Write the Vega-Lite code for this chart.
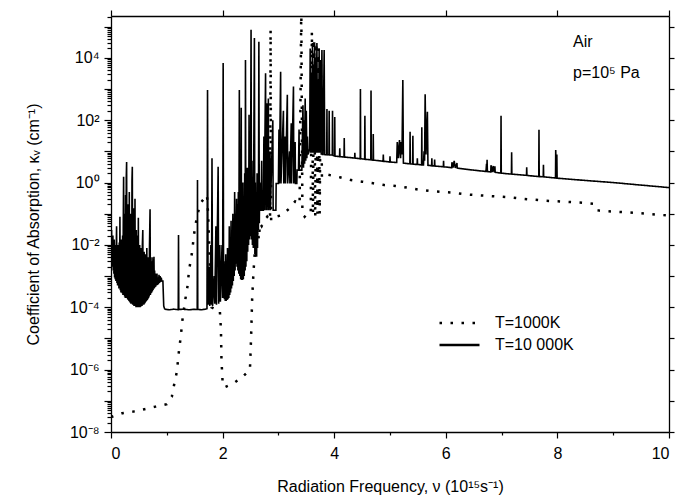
{
  "$schema": "https://vega.github.io/schema/vega-lite/v6.json",
  "autosize": "none",
  "width": 558,
  "height": 416,
  "padding": {"left": 111, "top": 16, "right": 8, "bottom": 72},
  "background": "white",
  "config": {
    "view": {"stroke": null},
    "font": "Liberation Sans",
    "axis": {
      "domainColor": "black", "tickColor": "black", "labelColor": "black", "titleColor": "black",
      "grid": false, "labelFont": "Liberation Sans", "titleFont": "Liberation Sans",
      "labelFontSize": 16, "titleFontSize": 16, "titleFontWeight": "normal",
      "domainWidth": 1.3, "tickWidth": 1.2
    }
  },
  "layer": [
    {
      "data": {"values": [
        {"v":0,"k":3e-8},{"v":0.2,"k":4e-8},{"v":0.4,"k":4.5e-8},{"v":0.6,"k":5.4e-8},{"v":0.8,"k":6.5e-8},{"v":1.0,"k":7.8e-8},
        {"v":1.09,"k":1.35e-7},{"v":1.13,"k":3.2e-7},{"v":1.18,"k":8.5e-7},{"v":1.22,"k":4.3e-6},{"v":1.25,"k":1.15e-5},{"v":1.28,"k":3.9e-5},
        {"v":1.33,"k":1.7e-4},{"v":1.37,"k":4.6e-4},{"v":1.4,"k":1.6e-3},{"v":1.45,"k":5.4e-3},{"v":1.49,"k":2.3e-2},{"v":1.54,"k":8.1e-2},
        {"v":1.6,"k":2.1e-1},{"v":1.65,"k":2.8e-1},{"v":1.7,"k":3.5e-1},{"v":1.72,"k":4e-1},{"v":1.74,"k":1e-1},{"v":1.76,"k":1e-2},
        {"v":1.78,"k":8e-4},{"v":1.8,"k":1e-4},{"v":1.85,"k":9e-5},{"v":1.9,"k":9e-5},{"v":1.95,"k":8e-5},{"v":1.97,"k":2e-5},
        {"v":1.98,"k":2e-6},{"v":2.0,"k":4e-7},{"v":2.03,"k":2.7e-7},{"v":2.19,"k":3.6e-7},{"v":2.36,"k":5.9e-7},{"v":2.49,"k":1e-6},
        {"v":2.51,"k":1e-5},{"v":2.53,"k":2e-4},{"v":2.55,"k":1e-3},{"v":2.57,"k":4e-3},{"v":2.6,"k":1.5e-2},{"v":2.63,"k":3e-2},
        {"v":2.65,"k":1.5e-2},{"v":2.67,"k":5e-2},{"v":2.7,"k":4e-2},{"v":2.75,"k":6e-2},{"v":2.8,"k":8e-2},{"v":2.85,"k":6e-2},
        {"v":2.86,"k":8e4},{"v":2.87,"k":6e-2},{"v":2.95,"k":8e-2},{"v":3.06,"k":9e-2},{"v":3.2,"k":1.5e-1},{"v":3.3,"k":2.5e-1},
        {"v":3.38,"k":2e-1},{"v":3.41,"k":5e5},{"v":3.43,"k":1e-1},{"v":3.47,"k":8e-2},{"v":3.52,"k":1e-1},{"v":3.58,"k":1e-1},
        {"v":3.6,"k":6.8e4},{"v":3.62,"k":1e-1},{"v":3.64,"k":4e4},{"v":3.66,"k":8e-2},{"v":3.68,"k":3e4},{"v":3.7,"k":1e-1},
        {"v":3.72,"k":2e4},{"v":3.74,"k":1e-1},{"v":3.76,"k":1e4},{"v":3.78,"k":1.5},{"v":3.8,"k":1.8},
        {"v":3.89,"k":1.78},{"v":4.1,"k":1.48},{"v":4.3,"k":1.2},{"v":4.5,"k":1.07},{"v":4.7,"k":0.95},{"v":4.9,"k":0.83},
        {"v":5.1,"k":0.78},{"v":5.3,"k":0.69},{"v":5.5,"k":0.6},{"v":5.7,"k":0.54},{"v":5.9,"k":0.51},{"v":6.1,"k":0.48},
        {"v":6.3,"k":0.43},{"v":6.5,"k":0.4},{"v":6.7,"k":0.38},{"v":7.0,"k":0.35},{"v":7.2,"k":0.33},{"v":7.4,"k":0.3},
        {"v":7.6,"k":0.28},{"v":7.8,"k":0.26},{"v":8.0,"k":0.25},{"v":8.2,"k":0.24},{"v":8.4,"k":0.23},{"v":8.64,"k":0.21},
        {"v":8.7,"k":0.13},{"v":8.75,"k":0.126},{"v":9.0,"k":0.117},{"v":9.3,"k":0.11},{"v":9.6,"k":0.1},{"v":9.87,"k":0.091},{"v":10,"k":0.088}
      ]},
      "mark": {"type": "line", "color": "black", "strokeWidth": 2.5, "clip": true},
      "encoding": {
        "x": {
          "field": "v", "type": "quantitative",
          "scale": {"domain": [0, 10], "nice": false, "zero": false},
          "axis": {
            "orient": "bottom", "values": [0,2,4,6,8,10], "tickSize": 6,
            "labelPadding": 7, "titlePadding": 17,
            "title": "Radiation Frequency, ν (10¹⁵s⁻¹)"
          }
        },
        "y": {
          "field": "k", "type": "quantitative",
          "scale": {"type": "log", "domain": [1e-8, 2.2e5], "nice": false},
          "axis": {
            "orient": "left",
            "values": [1e-8,1e-7,1e-6,1e-5,1e-4,1e-3,1e-2,0.1,1,10,100,1000,1e4,1e5],
            "labelExpr": "round(log(datum.value)/LN10) % 2 == 0 ? '10' + ['⁻⁸','','⁻⁶','','⁻⁴','','⁻²','','⁰','','²','','⁴','',''][round(log(datum.value)/LN10)+8] : ''",
            "tickSize": 7,
            "labelPadding": 5, "titlePadding": 28,
            "title": "Coefficient of Absorption, κᵥ (cm⁻¹)"
          }
        },
        "strokeDash": {
          "datum": "T=1000K", "type": "nominal",
          "scale": {"domain": ["T=1000K", "T=10 000K"], "range": [[2.5, 8.5], [1, 0]]},
          "legend": {
            "orient": "none", "legendX": 327, "legendY": 299, "title": null,
            "symbolType": "stroke", "symbolSize": 1600, "symbolStrokeWidth": 2.5, "symbolStrokeColor": "black",
            "clipHeight": 16, "rowPadding": 6,
            "labelFontSize": 16, "labelFont": "Liberation Sans", "labelColor": "black", "labelOffset": 14
          }
        }
      }
    },
    {
      "data": {"values": [
        {"v":0,"k":25},{"v":0.004,"k":8e-3},{"v":0.01,"k":3e-2},{"v":0.016,"k":3e-3},{"v":0.022,"k":1.5e-2},{"v":0.028,"k":2e-3},{"v":0.034,"k":2e-2},{"v":0.04,"k":1.5e-3},{"v":0.046,"k":1e-2},{"v":0.052,"k":1.2e-3},{"v":0.058,"k":1.5e-2},{"v":0.064,"k":9e-4},{"v":0.07,"k":6e-3},{"v":0.076,"k":8e-4},{"v":0.082,"k":1e-2},{"v":0.088,"k":7e-4},{"v":0.094,"k":8e-3},{"v":0.1,"k":4e-2},{"v":0.106,"k":6e-4},{"v":0.112,"k":5e-3},{"v":0.118,"k":5e-4},{"v":0.124,"k":1e-2},{"v":0.13,"k":5e-4},{"v":0.136,"k":6e-3},{"v":0.142,"k":4e-4},{"v":0.148,"k":1.2e-2},{"v":0.154,"k":4e-4},{"v":0.16,"k":8e-2},{"v":0.166,"k":3.5e-4},{"v":0.172,"k":7e-3},{"v":0.178,"k":3e-4},{"v":0.184,"k":1.5e-2},{"v":0.19,"k":3e-4},{"v":0.196,"k":8e-3},{"v":0.202,"k":2.8e-4},{"v":0.208,"k":2e-2},{"v":0.214,"k":2.5e-4},{"v":0.22,"k":5e-2},{"v":0.226,"k":1.55},{"v":0.232,"k":2.5e-4},{"v":0.238,"k":3e-2},{"v":0.244,"k":2.2e-4},{"v":0.25,"k":1e-1},{"v":0.256,"k":2e-4},{"v":0.262,"k":4e-1},{"v":0.268,"k":2e-4},{"v":0.274,"k":1.5},{"v":0.28,"k":4.6},{"v":0.286,"k":2e-4},{"v":0.292,"k":6e-2},{"v":0.298,"k":1.8e-4},{"v":0.304,"k":2e-1},{"v":0.31,"k":1.7e-4},{"v":0.316,"k":5e-2},{"v":0.322,"k":1.6e-4},{"v":0.328,"k":5e-1},{"v":0.334,"k":1.5e-4},{"v":0.34,"k":2e-2},{"v":0.346,"k":1.4e-4},{"v":0.352,"k":1e-1},{"v":0.358,"k":1.3e-4},{"v":0.364,"k":3e-2},{"v":0.37,"k":1.3e-4},{"v":0.376,"k":1.2},{"v":0.382,"k":3.2},{"v":0.388,"k":1.2e-4},{"v":0.394,"k":5e-2},{"v":0.4,"k":1.2e-4},{"v":0.406,"k":1.5e-1},{"v":0.412,"k":1.1e-4},{"v":0.418,"k":1e-2},{"v":0.424,"k":1.1e-4},{"v":0.43,"k":3e-1},{"v":0.436,"k":1.1e-4},{"v":0.442,"k":8e-3},{"v":0.448,"k":1e-4},{"v":0.454,"k":3e-2},{"v":0.46,"k":1e-4},{"v":0.466,"k":6e-3},{"v":0.472,"k":1e-4},{"v":0.478,"k":2e-2},{"v":0.484,"k":1e-4},{"v":0.49,"k":7.4e-2},{"v":0.496,"k":1e-4},{"v":0.502,"k":5e-3},{"v":0.508,"k":1e-4},{"v":0.514,"k":1e-2},{"v":0.52,"k":1e-4},{"v":0.526,"k":4e-3},{"v":0.532,"k":1.05e-4},{"v":0.538,"k":8e-3},{"v":0.544,"k":1.1e-4},{"v":0.55,"k":3e-3},{"v":0.556,"k":1.1e-4},{"v":0.562,"k":1e-2},{"v":0.57,"k":3e-2},{"v":0.576,"k":1.2e-4},{"v":0.582,"k":3e-3},{"v":0.588,"k":1.2e-4},{"v":0.594,"k":6e-3},{"v":0.6,"k":1.3e-4},{"v":0.606,"k":2.5e-3},{"v":0.612,"k":1.4e-4},{"v":0.618,"k":5e-3},{"v":0.624,"k":1.5e-4},{"v":0.63,"k":2e-3},{"v":0.636,"k":1.6e-4},{"v":0.642,"k":8e-3},{"v":0.648,"k":1.7e-4},{"v":0.654,"k":3e-3},{"v":0.66,"k":1.8e-4},{"v":0.666,"k":4e-3},{"v":0.672,"k":2e-4},{"v":0.678,"k":1.5e-3},{"v":0.684,"k":2.2e-4},{"v":0.69,"k":1e-2},{"v":0.7,"k":1.4e-1},{"v":0.706,"k":2.5e-4},{"v":0.712,"k":3e-3},{"v":0.718,"k":2.8e-4},{"v":0.724,"k":2e-3},{"v":0.73,"k":3e-4},{"v":0.736,"k":4e-3},{"v":0.742,"k":3.3e-4},{"v":0.748,"k":1.5e-3},{"v":0.754,"k":3.6e-4},{"v":0.76,"k":2e-3},{"v":0.77,"k":4.2e-3},{"v":0.776,"k":4e-4},{"v":0.782,"k":1.5e-3},{"v":0.788,"k":4.4e-4},{"v":0.794,"k":1.2e-3},{"v":0.8,"k":4.6e-4},{"v":0.808,"k":1e-3},{"v":0.816,"k":5e-4},{"v":0.824,"k":1.2e-3},{"v":0.832,"k":5.2e-4},{"v":0.84,"k":9e-4},{"v":0.85,"k":5.5e-4},{"v":0.86,"k":1.1e-3},{"v":0.87,"k":6e-4},{"v":0.88,"k":1e-3},{"v":0.89,"k":6.5e-4},{"v":0.9,"k":9e-4},{"v":0.91,"k":7e-4},{"v":0.93,"k":7e-4},{"v":0.945,"k":1.1e-4},{"v":0.96,"k":9e-5},{"v":0.975,"k":8.6e-5},
        {"v":1.05,"k":8.3e-5},{"v":1.12,"k":8.7e-5},{"v":1.2,"k":8.4e-5},{"v":1.205,"k":8.4e-5},{"v":1.21,"k":2.1e-2},{"v":1.215,"k":8.5e-5},{"v":1.3,"k":8.7e-5},{"v":1.4,"k":8.3e-5},{"v":1.48,"k":8.6e-5},{"v":1.545,"k":8.5e-5},{"v":1.55,"k":1.2},{"v":1.555,"k":8.6e-5},{"v":1.62,"k":8.3e-5},{"v":1.69,"k":8.7e-5},{"v":1.72,"k":9e-5},{"v":1.73,"k":930},{"v":1.74,"k":1.2e-4},{"v":1.76,"k":2e-3},{"v":1.77,"k":1.1e-4},{"v":1.79,"k":1e-2},{"v":1.8,"k":1.2e-4},{"v":1.81,"k":6},{"v":1.82,"k":1.1e-4},{"v":1.85,"k":1e-3},{"v":1.86,"k":1.3e-4},{"v":1.88,"k":4e-2},{"v":1.89,"k":1.2e-4},{"v":1.92,"k":3.2},{"v":1.93,"k":1.3e-4},{"v":1.95,"k":1e-2},{"v":1.96,"k":1.5e-4},{"v":1.99,"k":1e-2},
        {"v":2.0,"k":2e-4},{"v":2.01,"k":6800},{"v":2.018,"k":2e-4},{"v":2.025,"k":3e-3},{"v":2.032,"k":1.8e-4},{"v":2.04,"k":1e-3},{"v":2.048,"k":1.6e-4},{"v":2.056,"k":5e-3},{"v":2.064,"k":1.6e-4},{"v":2.072,"k":2e-3},{"v":2.08,"k":1.7e-4},{"v":2.088,"k":8e-3},{"v":2.096,"k":1.8e-4},{"v":2.104,"k":3e-3},{"v":2.112,"k":2e-4},{"v":2.12,"k":4e-2},{"v":2.128,"k":2.5e-4},{"v":2.136,"k":1e-2},{"v":2.144,"k":3e-4},{"v":2.152,"k":6e-2},{"v":2.16,"k":4e-4},{"v":2.168,"k":2e-2},{"v":2.176,"k":5e-4},{"v":2.184,"k":1e-1},{"v":2.192,"k":7e-4},{"v":2.2,"k":3e-2},{"v":2.208,"k":1e-3},{"v":2.216,"k":5e-1},{"v":2.224,"k":1.5e-3},{"v":2.232,"k":1e-1},{"v":2.24,"k":2.5e-3},{"v":2.25,"k":3e-1},{"v":2.258,"k":2e-3},{"v":2.266,"k":2e-1},{"v":2.274,"k":1.5e-3},{"v":2.282,"k":5e-1},{"v":2.29,"k":1.2e-3},{"v":2.3,"k":930},{"v":2.308,"k":1e-3},{"v":2.316,"k":3e-1},{"v":2.324,"k":8e-4},{"v":2.334,"k":250},{"v":2.34,"k":7.5e-4},{"v":2.348,"k":2e-1},{"v":2.356,"k":7.5e-4},{"v":2.364,"k":1},{"v":2.372,"k":8e-4},{"v":2.38,"k":3e-1},{"v":2.388,"k":1e-3},{"v":2.396,"k":2},{"v":2.404,"k":1.5e-3},{"v":2.41,"k":8500},{"v":2.418,"k":2e-3},{"v":2.426,"k":5e-1},{"v":2.434,"k":3e-3},{"v":2.442,"k":3},{"v":2.45,"k":6e-3},{"v":2.458,"k":1},{"v":2.466,"k":1e-2},{"v":2.474,"k":150},{"v":2.482,"k":1.5e-2},{"v":2.49,"k":2},{"v":2.498,"k":1.9e-2},{"v":2.51,"k":8e4},{"v":2.518,"k":1.5e-2},{"v":2.526,"k":5},{"v":2.534,"k":1e-2},{"v":2.542,"k":3e-1},{"v":2.55,"k":8e-3},{"v":2.56,"k":20},{"v":2.57,"k":4.3e4},{"v":2.578,"k":5e-3},{"v":2.586,"k":1},{"v":2.594,"k":4.2e-3},{"v":2.602,"k":3e-1},{"v":2.61,"k":4.2e-3},{"v":2.618,"k":2},{"v":2.626,"k":8e-3},{"v":2.634,"k":5e-1},{"v":2.642,"k":3e-2},{"v":2.65,"k":3.3e4},{"v":2.658,"k":5e-2},{"v":2.666,"k":1},{"v":2.674,"k":1.3e-1},{"v":2.69,"k":1.3e-1},{"v":2.7,"k":5},{"v":2.706,"k":1.3e-1},{"v":2.73,"k":1.3e-1},{"v":2.74,"k":30},{"v":2.746,"k":1.3e-1},{"v":2.77,"k":3200},{"v":2.776,"k":1.3e-1},{"v":2.79,"k":350},{"v":2.796,"k":1.3e-1},{"v":2.82,"k":500},{"v":2.826,"k":1.3e-1},{"v":2.85,"k":10},{"v":2.856,"k":1.3e-1},{"v":2.9,"k":100},{"v":2.906,"k":1.3e-1},{"v":2.955,"k":1.3e-1},{"v":2.96,"k":0.93},
        {"v":3.0,"k":0.93},{"v":3.01,"k":50},{"v":3.016,"k":0.93},{"v":3.04,"k":3600},{"v":3.046,"k":0.93},{"v":3.09,"k":200},{"v":3.096,"k":0.93},{"v":3.12,"k":30},{"v":3.126,"k":0.93},{"v":3.16,"k":650},{"v":3.166,"k":0.93},{"v":3.2,"k":10},{"v":3.206,"k":0.93},{"v":3.23,"k":80},{"v":3.236,"k":0.93},{"v":3.27,"k":1200},{"v":3.276,"k":0.93},{"v":3.3,"k":20},{"v":3.306,"k":0.93},{"v":3.33,"k":0.93},{"v":3.335,"k":2.5},{"v":3.36,"k":2.5},{"v":3.37,"k":50},{"v":3.376,"k":2.5},{"v":3.42,"k":2.5},{"v":3.44,"k":300},{"v":3.45,"k":3},{"v":3.46,"k":100},{"v":3.47,"k":4},{"v":3.48,"k":500},{"v":3.49,"k":5},{"v":3.5,"k":200},{"v":3.51,"k":6},{"v":3.52,"k":30},{"v":3.53,"k":8},{"v":3.54,"k":8.7},{"v":3.56,"k":12},{"v":3.57,"k":2e4},{"v":3.58,"k":9},{"v":3.59,"k":3000},{"v":3.6,"k":9},{"v":3.61,"k":3e4},{"v":3.62,"k":9},{"v":3.63,"k":5000},{"v":3.64,"k":9},{"v":3.65,"k":2.5e4},{"v":3.66,"k":9},{"v":3.67,"k":1e4},{"v":3.68,"k":9},{"v":3.69,"k":3e4},{"v":3.7,"k":9},{"v":3.71,"k":1500},{"v":3.72,"k":9},{"v":3.73,"k":2e4},{"v":3.74,"k":9},{"v":3.75,"k":8000},{"v":3.76,"k":9},{"v":3.78,"k":1.8e4},{"v":3.79,"k":8},{"v":3.8,"k":8},{"v":3.82,"k":1.8e4},{"v":3.83,"k":7.9},
        {"v":3.866,"k":7.8},{"v":3.87,"k":230},{"v":3.874,"k":7.8},{"v":3.906,"k":7.8},{"v":3.91,"k":200},{"v":3.914,"k":7.7},{"v":3.966,"k":7.6},{"v":3.97,"k":200},{"v":3.974,"k":7.5},{"v":4.006,"k":7.1},{"v":4.01,"k":126},{"v":4.014,"k":7.1},{"v":4.096,"k":6.8},{"v":4.1,"k":12.6},{"v":4.104,"k":6.8},{"v":4.176,"k":6.6},{"v":4.18,"k":27},{"v":4.184,"k":6.6},{"v":4.366,"k":6.1},{"v":4.37,"k":9},{"v":4.374,"k":6.1},{"v":4.466,"k":5.8},{"v":4.47,"k":1000},{"v":4.474,"k":5.8},{"v":4.5,"k":5.75},{"v":4.546,"k":5.6},{"v":4.55,"k":138},{"v":4.554,"k":5.6},{"v":4.656,"k":5.35},{"v":4.66,"k":890},{"v":4.664,"k":5.35},{"v":4.696,"k":5.25},{"v":4.7,"k":36},{"v":4.704,"k":5.25},{"v":4.876,"k":4.83},{"v":4.88,"k":8},{"v":4.884,"k":4.83},{"v":4.996,"k":4.57},{"v":5.0,"k":7},{"v":5.004,"k":4.57},
        {"v":5.12,"k":4.4},{"v":5.13,"k":20},{"v":5.15,"k":6},{"v":5.17,"k":23},{"v":5.19,"k":6},{"v":5.2,"k":20},{"v":5.215,"k":8},{"v":5.23,"k":1950},{"v":5.24,"k":4.2},{"v":5.356,"k":4.0},{"v":5.36,"k":43},{"v":5.364,"k":4.0},{"v":5.406,"k":3.9},{"v":5.41,"k":32},{"v":5.414,"k":3.9},{"v":5.486,"k":3.8},{"v":5.49,"k":6},{"v":5.494,"k":3.8},{"v":5.566,"k":3.7},{"v":5.57,"k":59},{"v":5.574,"k":3.7},{"v":5.6,"k":3.7},{"v":5.61,"k":10},{"v":5.62,"k":5},{"v":5.63,"k":676},{"v":5.645,"k":8},{"v":5.67,"k":186},{"v":5.68,"k":3.6},{"v":5.746,"k":3.47},{"v":5.75,"k":6},{"v":5.754,"k":3.47},{"v":5.796,"k":3.4},{"v":5.8,"k":5.5},{"v":5.804,"k":3.4},{"v":5.956,"k":3.2},{"v":5.96,"k":5},{"v":5.964,"k":3.2},{"v":6.0,"k":3.16},{"v":6.106,"k":3.0},{"v":6.11,"k":4.5},{"v":6.13,"k":3.0},{"v":6.15,"k":5},{"v":6.17,"k":2.95},{"v":6.2,"k":4.2},{"v":6.205,"k":2.9},{"v":6.5,"k":2.5},{"v":6.72,"k":2.27},{"v":6.73,"k":4},{"v":6.735,"k":2.26},{"v":6.74,"k":5.4},{"v":6.745,"k":2.25},{"v":6.806,"k":2.2},{"v":6.81,"k":3.6},{"v":6.83,"k":2.18},{"v":6.85,"k":3.4},{"v":6.865,"k":2.16},{"v":6.88,"k":3.3},{"v":6.885,"k":2.14},{"v":6.986,"k":2.0},{"v":6.99,"k":138},{"v":6.994,"k":2.0},{"v":7.176,"k":1.87},{"v":7.18,"k":9.3},{"v":7.184,"k":1.87},{"v":7.446,"k":1.7},{"v":7.45,"k":3.1},{"v":7.454,"k":1.7},{"v":7.5,"k":1.66},{"v":7.666,"k":1.56},{"v":7.67,"k":49},{"v":7.674,"k":1.56},{"v":7.746,"k":1.53},{"v":7.75,"k":3.7},{"v":7.754,"k":1.53},{"v":7.966,"k":1.4},{"v":7.97,"k":11},{"v":7.98,"k":1.4},{"v":7.99,"k":8},{"v":7.995,"k":1.38},{"v":8.5,"k":1.17},{"v":9.0,"k":1.0},{"v":9.5,"k":0.83},{"v":10,"k":0.69}
      ]},
      "mark": {"type": "line", "color": "black", "strokeWidth": 1.6, "clip": true},
      "encoding": {
        "x": {"field": "v", "type": "quantitative", "axis": null},
        "y": {"field": "k", "type": "quantitative", "axis": null},
        "strokeDash": {"datum": "T=10 000K", "type": "nominal"}
      }
    },
    {
      "data": {"values": [
        {"v": 8.28, "k": 3.2e4, "t": "Air"},
        {"v": 8.28, "k": 3.3e3, "t": "p=10⁵ Pa"}
      ]},
      "mark": {"type": "text", "align": "left", "baseline": "middle", "fontSize": 16, "font": "Liberation Sans", "color": "black"},
      "encoding": {
        "x": {
          "field": "v", "type": "quantitative",
          "axis": {"orient": "top", "values": [0,2,4,6,8,10], "labels": false, "title": null, "tickSize": 6}
        },
        "y": {
          "field": "k", "type": "quantitative",
          "axis": {"orient": "right", "labels": false, "title": null, "values": [1e-8,1e-7,1e-6,1e-5,1e-4,1e-3,1e-2,0.1,1,10,100,1000,1e4,1e5], "tickSize": 5}
        },
        "text": {"field": "t"}
      }
    },
    {
      "data": {"values": [
        {"v": 8.28, "k": 3.2e4, "t": ""}
      ]},
      "mark": {"type": "text", "opacity": 0},
      "encoding": {
        "x": {
          "field": "v", "type": "quantitative",
          "axis": {"orient": "bottom", "values": [1,3,5,7,9], "labels": false, "title": null, "tickSize": 3, "domain": false}
        },
        "y": {
          "field": "k", "type": "quantitative",
          "axis": {
            "orient": "left", "labels": false, "title": null, "domain": false, "tickSize": 4,
            "values": [2e-8,3e-8,4e-8,5e-8,6e-8,7e-8,8e-8,9e-8,2e-7,3e-7,4e-7,5e-7,6e-7,7e-7,8e-7,9e-7,2e-6,3e-6,4e-6,5e-6,6e-6,7e-6,8e-6,9e-6,2e-5,3e-5,4e-5,5e-5,6e-5,7e-5,8e-5,9e-5,2e-4,3e-4,4e-4,5e-4,6e-4,7e-4,8e-4,9e-4,2e-3,3e-3,4e-3,5e-3,6e-3,7e-3,8e-3,9e-3,2e-2,3e-2,4e-2,5e-2,6e-2,7e-2,8e-2,9e-2,0.2,0.3,0.4,0.5,0.6,0.7,0.8,0.9,2,3,4,5,6,7,8,9,20,30,40,50,60,70,80,90,200,300,400,500,600,700,800,900,2000,3000,4000,5000,6000,7000,8000,9000,2e4,3e4,4e4,5e4,6e4,7e4,8e4,9e4,2e5]
          }
        },
        "text": {"field": "t"}
      }
    }
  ],
  "resolve": {"axis": {"x": "independent", "y": "independent"}}
}
